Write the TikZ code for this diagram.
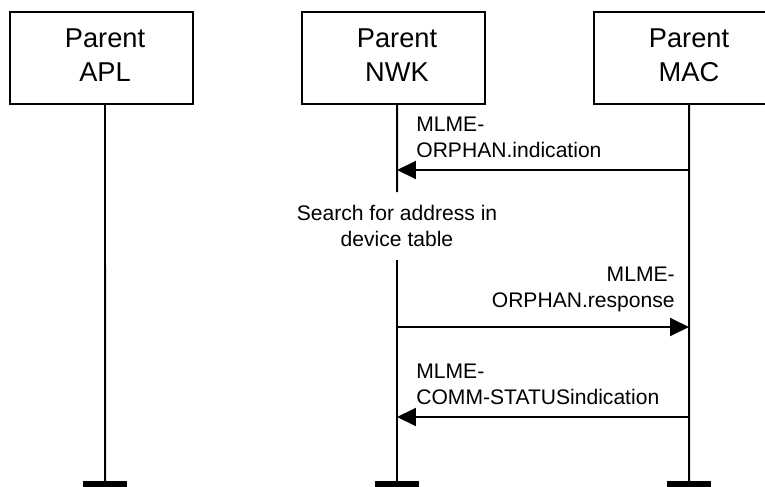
\documentclass[tikz,border=0pt]{standalone}
\usepackage{fontspec}
\setmainfont{Liberation Sans}
\usetikzlibrary{arrows.meta}
\tikzset{
	unit/.style={draw, line width=0.035cm, minimum width=3.66cm, minimum height=1.84cm, inner sep=0pt},
	unitname/.style={align=center, font=\fontsize{15.5}{19.3}\selectfont, xshift=0.07cm, yshift=0.05cm},
	life/.style={line width=0.04cm},
	lifeend/.style={line width=0.12cm},
	msg/.style={line width=0.04cm, -{Triangle[length=0.38cm, width=0.36cm]}},
	msgtext/.style={font=\fontsize{12}{14.8}\selectfont, inner sep=0pt, text depth=0pt}
}
\begin{document}
\begin{tikzpicture}[x=0.02cm, y=-0.02cm]
	\path[use as bounding box, clip] (0,0) rectangle (765,487);
	% the three layers
	\node[unit, label={[unitname]center:Parent\\APL}] (apl) at (101.5,58) {};
	\node[unit, label={[unitname]center:Parent\\NWK}] (nwk) at (393.5,58) {};
	\node[unit, label={[unitname]center:Parent\\MAC}] (mac) at (685.5,58) {};

	\coordinate (apl end) at (105,484);
	\coordinate (nwk gap) at (397,192); \coordinate (nwk back) at (397,260);
	\coordinate (nwk end) at (397,484);
	\coordinate (mac end) at (689,484);

	% life lines
	\draw[life] ([xshift=0.07cm]apl.south) -- (apl end);
	\draw[life] ([xshift=0.07cm]nwk.south) -- (nwk gap);
	\draw[life] (nwk back) -- (nwk end);
	\draw[life] ([xshift=0.07cm]mac.south) -- (mac end);
	\draw[lifeend] ([xshift=-0.45cm]apl end) -- ([xshift=0.45cm]apl end);
	\draw[lifeend] ([xshift=-0.45cm]nwk end) -- ([xshift=0.45cm]nwk end);
	\draw[lifeend] ([xshift=-0.45cm]mac end) -- ([xshift=0.45cm]mac end);

	% messages
	\coordinate (nwk ind) at (397,170); \coordinate (mac ind) at (689,170);
	\coordinate (nwk resp) at (397,327); \coordinate (mac resp) at (689,327);
	\coordinate (nwk comm) at (397,417); \coordinate (mac comm) at (689,417);

	\draw[msg] (mac ind) -- (nwk ind);
	\node[msgtext, align=left, anchor=south west] (ind) at (416,158) {MLME-\\ORPHAN.indication};

	\node[msgtext, align=center, anchor=south] (search) at (397,247) {Search for address in\\device table};

	\draw[msg] (nwk resp) -- (mac resp);
	\node[msgtext, align=right, anchor=south east] (resp) at (675,308) {MLME-\\ORPHAN.response};

	\draw[msg] (mac comm) -- (nwk comm);
	\node[msgtext, align=left, anchor=south west] (comm) at (416,405) {MLME-\\COMM-STATUSindication};
\end{tikzpicture}
\end{document}
